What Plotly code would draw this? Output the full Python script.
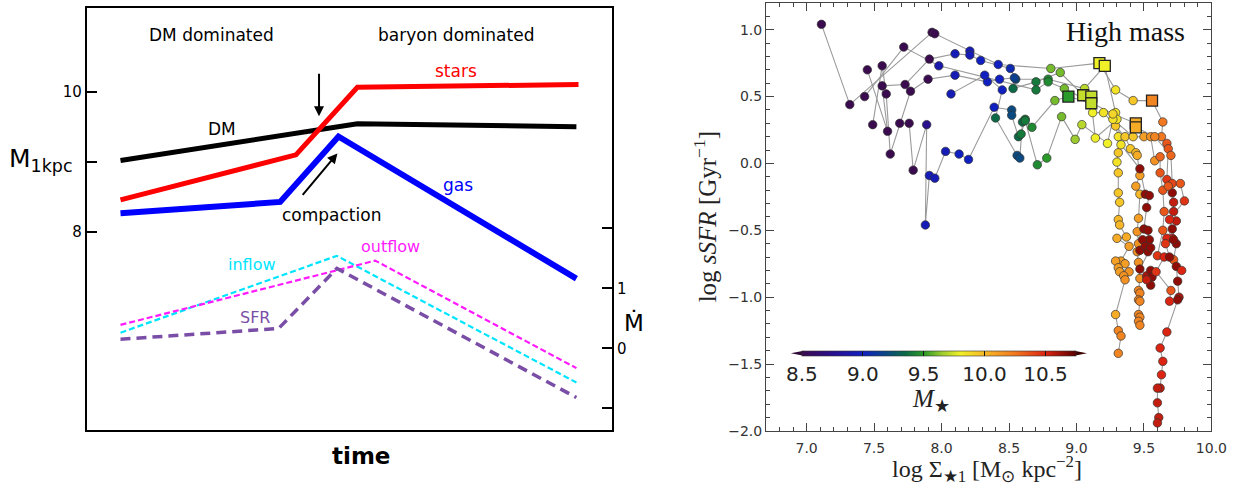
import plotly.graph_objects as go

W, H = 1258, 495

# ---------------- left panel: schematic mass / rate evolution ----------------
time_dm = [0.64, 5.15, 9.32]
mass_dm = [9.02, 9.54, 9.50]
time_stars = [0.64, 3.98, 5.15, 9.36]
mass_stars = [8.46, 9.10, 10.06, 10.10]
time_gas = [0.64, 3.68, 4.79, 9.32]
mass_gas = [8.27, 8.43, 9.36, 7.34]
time_inflow = [0.64, 4.76, 9.32]
rate_inflow = [0.26, 1.54, -0.57]
time_outflow = [0.64, 5.49, 9.32]
rate_outflow = [0.39, 1.46, -0.33]
time_sfr = [0.64, 3.65, 4.76, 9.32]
rate_sfr = [0.15, 0.33, 1.33, -0.82]
mass_ticks = [8, 9, 10]
mass_tick_labels = ["8", "", "10"]
rate_ticks = [-1, 0, 1, 2]
rate_tick_labels = ["", "0", "1", ""]

# ---------------- right panel: sSFR vs central surface density tracks ----------------
track_a_sigma = [7.11, 7.32, 7.93, 7.95, 8.21, 8.42, 8.81, 9.17, 9.29, 9.42, 9.56, 9.64, 9.63, 9.67, 9.68, 9.67, 9.71, 9.72, 9.72, 9.74,
                 9.71, 9.74, 9.72, 9.74, 9.75, 9.76, 9.75, 9.67, 9.62, 9.64, 9.63, 9.62, 9.60, 9.60, 9.61, 9.60]
track_a_ssfr = [1.04, 0.44, 0.98, 0.97, 0.84, 0.74, 0.71, 0.75, 0.55, 0.47, 0.47, 0.31, 0.20, 0.15, 0.11, -0.12, -0.22, -0.29, -0.36, -0.43,
                -0.56, -0.60, -0.72, -0.77, -0.88, -1.00, -1.02, -1.26, -1.38, -1.48, -1.58, -1.68, -1.68, -1.79, -1.90, -1.94]
track_a_mass = [8.5, 8.5, 8.5, 8.5, 8.95, 9.0, 9.6, 9.8, 9.85, 9.95, 10.2, 10.25, 10.25, 10.35, 10.35, 10.45, 10.65, 10.55, 10.55, 10.55,
                10.5, 10.65, 10.35, 10.65, 10.65, 10.6, 10.65, 10.5, 10.5, 10.5, 10.5, 10.55, 10.55, 10.55, 10.55, 10.55]

track_b_sigma = [7.45, 7.60, 7.56, 7.73, 7.91, 8.10, 8.21, 8.29, 8.51, 8.55, 8.79, 9.06, 9.21, 9.29, 9.29, 9.31, 9.31, 9.30, 9.31, 9.31,
                 9.32, 9.31, 9.32, 9.37, 9.30, 9.39, 9.33, 9.29, 9.36, 9.31, 9.39, 9.32, 9.35, 9.36, 9.29, 9.31, 9.33, 9.31]
track_b_ssfr = [0.70, 0.24, 0.58, 0.59, 0.78, 0.82, 0.81, 0.77, 0.71, 0.63, 0.63, 0.56, 0.73, 0.38, 0.28, 0.20, 0.08, 0.01, -0.07, -0.22,
                -0.29, -0.42, -0.46, -0.55, -0.56, -0.62, -0.73, -0.73, -0.75, -0.78, -0.81, -0.81, -0.84, -0.87, -1.13, -1.25, -1.29, -1.42]
track_b_mass = [8.5, 8.5, 8.5, 8.5, 8.5, 8.95, 8.95, 9.0, 9.05, 9.2, 9.45, 9.7, 9.8, 9.85, 9.95, 9.85, 9.95, 9.85, 9.95, 9.95,
                9.95, 10.0, 10.0, 10.05, 10.05, 10.1, 10.1, 10.1, 10.1, 10.1, 10.15, 10.1, 10.15, 10.15, 10.05, 10.2, 10.2, 10.2]

track_c_sigma = [7.49, 7.56, 7.59, 7.62, 7.77, 7.90, 8.10, 8.34, 8.43, 8.54, 8.53, 8.70, 8.88, 9.05, 9.11, 9.12, 9.20, 9.36, 9.40, 9.44,
                 9.45, 9.47, 9.44, 9.47, 9.46, 9.45, 9.46, 9.45, 9.46, 9.47, 9.46, 9.47, 9.46, 9.47, 9.46, 9.47, 9.46, 9.47]
track_c_ssfr = [0.29, 0.73, 0.52, 0.07, 0.54, 0.63, 0.66, 0.61, 0.63, 0.64, 0.56, 0.61, 0.68, 0.51, 0.50, 0.38, 0.38, 0.20, 0.11, 0.08,
                0.06, -0.09, -0.17, -0.23, -0.41, -0.51, -0.60, -0.66, -0.74, -0.86, -0.95, -0.97, -1.02, -1.03, -1.13, -1.15, -1.18, -1.21]
track_c_mass = [8.5, 8.5, 8.5, 8.5, 8.5, 8.5, 8.95, 9.0, 9.0, 9.15, 9.35, 9.4, 9.6, 9.72, 9.72, 9.8, 9.85, 9.95, 9.95, 10.0,
                10.05, 10.1, 10.1, 10.0, 10.1, 10.15, 10.15, 10.15, 10.15, 10.15, 10.2, 10.2, 10.2, 10.2, 10.2, 10.2, 10.2, 10.2]

track_d_sigma = [7.69, 7.76, 7.79, 7.89, 7.88, 7.91, 7.95, 8.03, 8.13, 8.20, 8.39, 8.52, 8.52, 8.57, 8.59, 8.62, 8.67, 8.84, 8.94, 9.11,
                 9.14, 9.30, 9.33, 9.47, 9.51, 9.54, 9.52, 9.50, 9.53, 9.54, 9.49, 9.47, 9.51, 9.53, 9.55, 9.47, 9.52, 9.55, 9.56, 9.55, 9.52]
track_d_ssfr = [0.30, 0.30, -0.05, 0.29, -0.46, -0.09, -0.11, 0.09, 0.07, 0.03, 0.42, 0.40, 0.36, 0.20, 0.22, 0.33, 0.27, 0.47, 0.50, 0.45,
                0.19, 0.33, 0.14, -0.04, -0.23, -0.24, -0.33, -0.49, -0.50, -0.57, -0.57, -0.65, -0.62, -0.66, -0.63, -0.79, -0.84, -0.80, -0.85, -0.91, -0.87]
track_d_mass = [8.5, 8.5, 8.5, 8.75, 8.95, 8.95, 8.95, 8.95, 9.0, 9.0, 9.0, 9.2, 9.2, 9.35, 9.4, 9.4, 9.45, 9.6, 9.5, 9.72,
                9.8, 9.85, 9.85, 10.65, 10.65, 10.65, 10.65, 10.65, 10.65, 10.65, 10.65, 10.65, 10.65, 10.65, 10.65, 10.65, 10.6, 10.65, 10.65, 10.65, 10.55]

track_e_sigma = [8.07, 8.32, 8.45, 8.40, 8.56, 8.58, 8.60, 8.62, 8.71, 8.78, 8.89, 8.99, 9.04, 9.23, 9.27, 9.42, 9.50, 9.55, 9.58, 9.62,
                 9.62, 9.64, 9.65, 9.64, 9.60, 9.65, 9.59, 9.70, 9.69]
track_e_ssfr = [0.52, 0.66, 0.55, 0.34, 0.06, 0.04, 0.31, 0.32, -0.01, 0.04, 0.35, 0.18, 0.29, 0.15, 0.33, 0.20, 0.20, 0.20, 0.02, 0.05,
                -0.07, -0.20, -0.36, -0.50, -0.69, -0.70, -0.81, -0.95, -1.03]
track_e_mass = [8.95, 9.0, 9.0, 9.35, 9.2, 9.2, 9.35, 9.4, 9.45, 9.5, 9.6, 9.65, 9.7, 9.8, 9.85, 9.95, 10.1, 10.15, 10.15, 10.3,
                10.35, 10.35, 10.35, 10.35, 10.45, 10.5, 10.45, 10.35, 10.5]

track_f_sigma = [7.43, 7.72, 7.98, 8.70, 8.79, 8.91, 9.27, 9.44, 9.44, 9.58, 9.70, 9.71, 9.68, 9.77, 9.80, 9.69, 9.71, 9.67, 9.72, 9.66,
                 9.69, 9.78]
track_f_ssfr = [0.50, 0.87, 0.73, 0.55, 0.61, 0.56, 0.37, 0.30, 0.27, 0.20, 0.06, -0.15, -0.17, -0.15, -0.28, -0.42, -0.49, -0.56, -0.57, -0.60,
                -0.70, -0.80]
track_f_mass = [8.5, 8.5, 8.9, 9.4, 9.45, 9.6, 9.9, 10.05, 10.05, 10.2, 10.3, 10.4, 10.35, 10.35, 10.45, 10.5, 10.65, 10.5, 10.65, 10.45,
                10.65, 10.5]

# compaction / blue-nugget epochs marked with squares
square_sigma = [8.94, 9.05, 9.11, 9.11, 9.17, 9.21, 9.44, 9.44, 9.56]
square_ssfr = [0.50, 0.51, 0.50, 0.45, 0.75, 0.73, 0.30, 0.27, 0.47]
square_mass = [9.5, 9.72, 9.72, 9.72, 9.8, 9.8, 10.05, 10.05, 10.2]

cbar_ticks = [8.5, 9.0, 9.5, 10.0, 10.5]
mass_min, mass_max = 8.5, 10.75

tracks = [
    (track_a_sigma, track_a_ssfr, track_a_mass),
    (track_b_sigma, track_b_ssfr, track_b_mass),
    (track_c_sigma, track_c_ssfr, track_c_mass),
    (track_d_sigma, track_d_ssfr, track_d_mass),
    (track_e_sigma, track_e_ssfr, track_e_mass),
    (track_f_sigma, track_f_ssfr, track_f_mass),
]


def cpos(v):
    return (v - mass_min) / (mass_max - mass_min)


mass_colorscale = [
    [cpos(8.5), "#3b0b4f"],
    [cpos(8.75), "#2a0f8c"],
    [cpos(9.0), "#1020c0"],
    [cpos(9.2), "#0a4a80"],
    [cpos(9.35), "#0b6a45"],
    [cpos(9.5), "#2a9a28"],
    [cpos(9.65), "#9ccc30"],
    [cpos(9.8), "#f0f028"],
    [cpos(10.0), "#f6b828"],
    [cpos(10.25), "#f07820"],
    [cpos(10.5), "#dc2412"],
    [cpos(10.75), "#5a0000"],
]

fig = go.Figure()

SANS = "DejaVu Sans"
SERIF = "Liberation Serif"


def left_line(t, v, axis, color, width, dash="solid"):
    fig.add_trace(go.Scatter(x=t, y=v, mode="lines", xaxis="x", yaxis=axis,
                             line=dict(color=color, width=width, dash=dash),
                             hoverinfo="skip", showlegend=False))


# left panel curves
left_line(time_dm, mass_dm, "y", "black", 5)
left_line(time_stars, mass_stars, "y", "#ff0000", 5)
left_line(time_gas, mass_gas, "y", "#0000ff", 6)
left_line(time_inflow, rate_inflow, "y2", "#00e5ff", 2.2, "6px,3px")
left_line(time_outflow, rate_outflow, "y2", "#ff1aff", 2.2, "6px,3px")
left_line(time_sfr, rate_sfr, "y2", "#7a4ea6", 3.5, "10px,6px")

# right panel: connecting lines first, then the markers on top
for sig, ssfr, mass in tracks:
    fig.add_trace(go.Scatter(x=sig, y=ssfr, mode="lines", xaxis="x2", yaxis="y3",
                             line=dict(color="#9a9a9a", width=1.1),
                             hoverinfo="skip", showlegend=False))
for sig, ssfr, mass in tracks:
    fig.add_trace(go.Scatter(x=sig, y=ssfr, mode="markers", xaxis="x2", yaxis="y3",
                             marker=dict(size=8.5, color=mass, coloraxis="coloraxis",
                                         line=dict(color="#333333", width=0.7)),
                             showlegend=False))
fig.add_trace(go.Scatter(x=square_sigma, y=square_ssfr, mode="markers", xaxis="x2", yaxis="y3",
                         marker=dict(symbol="square", size=11, color=square_mass, coloraxis="coloraxis",
                                     line=dict(color="#222222", width=1.3)),
                         showlegend=False))

# colour bar geometry (pixels)
cb_left, cb_right, cb_mid, cb_thick, cb_tip = 814, 1088, 359, 5, 13
cb_len = cb_right - cb_left

shapes = [
    dict(type="path", xref="paper", yref="paper", line=dict(width=0), fillcolor="#2e0838",
         path=f"M {cb_left / W},{1 - (cb_mid - cb_thick / 2) / H} L {(cb_left - cb_tip) / W},{1 - cb_mid / H} "
              f"L {cb_left / W},{1 - (cb_mid + cb_thick / 2) / H} Z"),
    dict(type="path", xref="paper", yref="paper", line=dict(width=0), fillcolor="#3a0000",
         path=f"M {cb_right / W},{1 - (cb_mid - cb_thick / 2) / H} L {(cb_right + cb_tip) / W},{1 - cb_mid / H} "
              f"L {cb_right / W},{1 - (cb_mid + cb_thick / 2) / H} Z"),
]


def paper_text(px, py, text, font, xanchor="center", yanchor="middle", **kw):
    return dict(x=px / W, y=1 - py / H, xref="paper", yref="paper", xanchor=xanchor, yanchor=yanchor,
                text=text, showarrow=False, font=font, **kw)


def data_text(x, y, yref, text, color, size=17):
    return dict(x=x, y=y, xref="x", yref=yref, xanchor="center", yanchor="middle", text=text,
                showarrow=False, font=dict(family=SANS, size=size, color=color))


annotations = [
    # left panel texts
    data_text(2.37, 10.81, "y", "DM dominated", "black"),
    data_text(7.03, 10.81, "y", "baryon dominated", "black"),
    data_text(7.03, 10.29, "y", "stars", "#ff0000"),
    data_text(2.58, 9.47, "y", "DM", "black"),
    data_text(7.07, 8.67, "y", "gas", "#0000ff"),
    data_text(4.66, 8.24, "y", "compaction", "black"),
    data_text(3.14, 1.39, "y2", "inflow", "#00e5ff", 16),
    data_text(5.79, 1.69, "y2", "outflow", "#ff1aff", 16),
    data_text(3.20, 0.51, "y2", "SFR", "#7a4ea6", 16),
    # arrows
    dict(x=4.42, y=9.65, xref="x", yref="y", ax=0, ay=-44, axref="pixel", ayref="pixel", text="", showarrow=True,
         arrowhead=2, arrowsize=1, arrowwidth=2, arrowcolor="black"),
    dict(x=4.77, y=9.12, xref="x", yref="y", ax=-36, ay=43, axref="pixel", ayref="pixel", text="", showarrow=True,
         arrowhead=2, arrowsize=1, arrowwidth=2, arrowcolor="black"),
    # left panel axis titles
    paper_text(7, 163, "M<sub>1kpc</sub>", dict(family=SANS, size=25, color="black"), xanchor="left"),
    paper_text(366, 463, "<b>time</b>", dict(family=SANS, size=23, color="black")),
    paper_text(642, 328, "Ṁ", dict(family=SANS, size=23, color="black")),
    # right panel texts
    paper_text(1202, 32, "High mass", dict(family=SERIF, size=28, color="#111"), xanchor="right"),
    paper_text(715, 220, "log <i>sSFR</i> [Gyr<sup>−1</sup>]", dict(family=SERIF, size=25, color="#222"), textangle=-90),
    paper_text(1000, 477, "log Σ<sub>★1</sub> [M<sub>⊙</sub> kpc<sup>−2</sup>]", dict(family=SERIF, size=24, color="#222")),
    paper_text(943, 407, "<i>M</i><sub>★</sub>", dict(family=SERIF, size=25, color="#222")),
]

right_axis_common = dict(
    showline=True, mirror="allticks", linecolor="#444", linewidth=1.3,
    ticks="inside", ticklen=8, tickwidth=1.2, tickcolor="#444",
    dtick=0.5, tickformat=".1f",
    minor=dict(dtick=0.1, ticklen=4, ticks="inside", tickcolor="#444", tickwidth=1),
    tickfont=dict(family=SANS, size=14, color="#333"),
    showgrid=False, zeroline=False,
)

fig.update_layout(
    width=W, height=H, autosize=False,
    margin=dict(l=0, r=0, t=0, b=0),
    paper_bgcolor="white", plot_bgcolor="white",
    showlegend=False,
    font=dict(family=SANS, color="black"),
    xaxis=dict(domain=[88 / W, 620 / W], range=[0, 10], anchor="y",
               showline=True, mirror=True, linecolor="black", linewidth=2,
               showticklabels=False, ticks="", showgrid=False, zeroline=False),
    yaxis=dict(domain=[1 - 437 / H, 1 - 8 / H], range=[5.189, 11.189], anchor="x",
               showline=True, mirror=True, linecolor="black", linewidth=2,
               tickvals=mass_ticks, ticktext=mass_tick_labels, ticks="inside", ticklen=10,
               tickwidth=1.5, tickcolor="black", tickfont=dict(family=SANS, size=15, color="black"),
               showgrid=False, zeroline=False),
    yaxis2=dict(overlaying="y", side="right", anchor="x", range=[-1.36, 5.67],
                tickvals=rate_ticks, ticktext=rate_tick_labels, ticks="inside", ticklen=10,
                tickwidth=1.5, tickcolor="black", tickfont=dict(family=SANS, size=15, color="black"),
                ticklabelstandoff=4,
                showline=False, showgrid=False, zeroline=False),
    xaxis2=dict(domain=[776 / W, 1227 / W], range=[6.7, 10.0], anchor="y3", tick0=7.0,
                ticklabelstandoff=4, **right_axis_common),
    yaxis3=dict(domain=[1 - 438 / H, 1 - 3 / H], range=[-2.0, 1.2], anchor="x2", tick0=0.0, **right_axis_common),
    coloraxis=dict(
        colorscale=mass_colorscale, cmin=mass_min, cmax=mass_max,
        colorbar=dict(
            orientation="h", x=(cb_left + cb_right) / 2 / W, xanchor="center",
            y=1 - (cb_mid - cb_thick / 2) / H, yanchor="top",
            len=cb_len, lenmode="pixels", thickness=cb_thick, thicknessmode="pixels",
            xpad=0, ypad=0, tickvals=cbar_ticks, tickformat=".1f",
            ticks="inside", ticklen=5, tickcolor="#111", tickwidth=1,
            tickfont=dict(family=SANS, size=20, color="#222"),
            outlinewidth=0.6, outlinecolor="#333", bgcolor="rgba(0,0,0,0)",
        ),
    ),
    shapes=shapes,
    annotations=annotations,
)

fig.write_html("out.html")
